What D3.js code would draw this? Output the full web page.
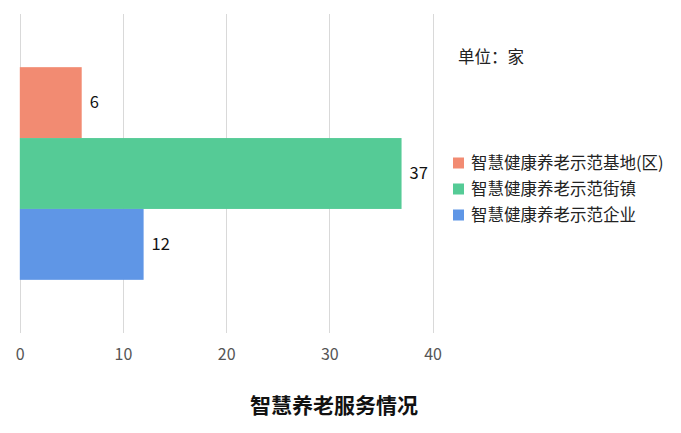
<!DOCTYPE html>
<html><head><meta charset="utf-8">
<script src="https://cdn.jsdelivr.net/npm/d3@7"></script>
<style>body{margin:0;background:#fff}svg{display:block}</style>
</head><body>
<svg id="c" width="681" height="433"></svg>
<script>
const seriesNames = ["智慧健康养老示范基地(区)", "智慧健康养老示范街镇", "智慧健康养老示范企业"];
const seriesValues = [6, 37, 12];
const seriesColors = ["#F28B72", "#55CB96", "#5F96E6"];
const xTicks = [0, 10, 20, 30, 40];
const category = ["智慧养老服务情况"];
const unitText = "单位：家";
const titleText = "智慧养老服务情况";

(function () {
const svg = d3.select("#c");
const font = "'Noto Sans CJK SC','Noto Sans',sans-serif";
const mLeft = 19.8, mRight = 432.5, mTop = 14, mBottom = 333;
const x = d3.scaleLinear().domain([0, 40]).range([mLeft, mRight]);
const band = d3.scaleBand().domain(category).range([mTop, mBottom]).paddingInner(0).paddingOuter(0.25);
const inner = d3.scaleBand().domain(seriesNames).range([0, band.bandwidth()]);

// grid
svg.append("g").selectAll("line").data(xTicks).join("line")
  .attr("x1", d => Math.round(x(d)) + 0.5).attr("x2", d => Math.round(x(d)) + 0.5)
  .attr("y1", mTop).attr("y2", mBottom)
  .attr("stroke", "#d9d9d9").attr("stroke-width", 1);

// axis labels
const ax = svg.append("g").attr("transform", `translate(0,${mBottom})`)
  .call(d3.axisBottom(x).tickValues(xTicks).tickSize(0).tickPadding(16));
ax.select(".domain").remove();
ax.selectAll("text").attr("font-family", font).attr("font-size", 16).attr("fill", "#555");

// bars
const data = seriesNames.map((n, i) => ({name: n, value: seriesValues[i], color: seriesColors[i]}));
const g = svg.append("g").attr("transform", `translate(0,${band(category[0])})`);
g.selectAll("rect").data(data).join("rect")
  .attr("x", x(0)).attr("y", d => inner(d.name))
  .attr("width", d => x(d.value) - x(0)).attr("height", inner.bandwidth())
  .attr("fill", d => d.color);
g.selectAll("text").data(data).join("text")
  .attr("x", d => x(d.value) + 8).attr("y", d => inner(d.name) + inner.bandwidth() / 2)
  .attr("dy", "0.35em").attr("font-family", font).attr("font-size", 16.5).attr("fill", "#111")
  .text(d => d.value);

// unit
svg.append("text").attr("x", 458).attr("y", 63).attr("font-family", font)
  .attr("font-size", 16.5).attr("fill", "#222").text(unitText);

// legend
const lg = svg.append("g").selectAll("g").data(data).join("g")
  .attr("transform", (d, i) => `translate(453,${163 + i * 26})`);
lg.append("rect").attr("x", 0).attr("y", -5.5).attr("width", 11).attr("height", 11).attr("fill", d => d.color);
lg.append("text").attr("x", 18).attr("y", 0).attr("dy", "0.35em").attr("font-family", font)
  .attr("font-size", 16.5).attr("fill", "#222").text(d => d.name);

// title
svg.append("text").attr("x", 334).attr("y", 413).attr("text-anchor", "middle")
  .attr("font-family", font).attr("font-size", 21).attr("font-weight", "bold").attr("fill", "#111")
  .text(titleText);
})();
</script>
</body></html>
